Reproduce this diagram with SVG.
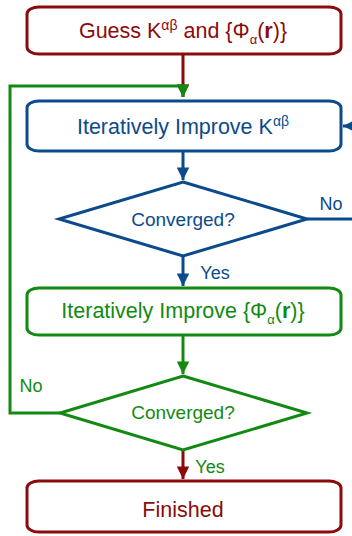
<svg xmlns="http://www.w3.org/2000/svg" width="352" height="536" viewBox="0 0 352 536">
<defs>
<style>
text{font-family:"Liberation Sans",Arial,sans-serif;text-anchor:middle}
.red{stroke:#8b0b0b;fill:none;stroke-width:3}
.blue{stroke:#0b4a8b;fill:none;stroke-width:3}
.green{stroke:#128a12;fill:none;stroke-width:3}
.tr{fill:#8b0b0b}.tb{fill:#0b4a8b}.tg{fill:#128a12}
.big{font-size:21.5px}.mid{font-size:19px}.lab{font-size:18px}
</style>
<marker id="ar" viewBox="0 0 10 10" refX="10" refY="5" markerWidth="4.2" markerHeight="4.2" markerUnits="strokeWidth" orient="auto"><path d="M0,0L10,5L0,10z" fill="#8b0b0b"/></marker>
<marker id="ab" viewBox="0 0 10 10" refX="10" refY="5" markerWidth="4.2" markerHeight="4.2" markerUnits="strokeWidth" orient="auto"><path d="M0,0L10,5L0,10z" fill="#0b4a8b"/></marker>
<marker id="ag" viewBox="0 0 10 10" refX="10" refY="5" markerWidth="4.2" markerHeight="4.2" markerUnits="strokeWidth" orient="auto"><path d="M0,0L10,5L0,10z" fill="#128a12"/></marker>
</defs>
<g id="connectors">
<path class="red" d="M183,55V97" marker-end="url(#ar)"/>
<path class="green" d="M60,413H10V86H183V97" marker-end="url(#ag)"/>
<path class="blue" d="M183,152V180" marker-end="url(#ab)"/>
<path class="blue" d="M307,219H360V126H343" marker-end="url(#ab)"/>
<path class="blue" d="M183,257V286" marker-end="url(#ab)"/>
<path class="green" d="M183,336V374" marker-end="url(#ag)"/>
<path class="red" d="M183,451V479" marker-end="url(#ar)"/>
<text x="331" y="210" class="lab tb">No</text>
<text x="215" y="279" class="lab tb">Yes</text>
<text x="31" y="392" class="lab tg">No</text>
<text x="210" y="473" class="lab tg">Yes</text>
</g>
<g id="guess">
<rect class="red" x="27" y="7" width="314" height="47" rx="12" ry="7"/>
<text x="183" y="38" class="big tr">Guess K<tspan font-size="14" dy="-8">αβ</tspan><tspan dy="8"> and {Φ</tspan><tspan font-size="13" dy="6">α</tspan><tspan dy="-6">(</tspan><tspan font-weight="bold">r</tspan>)}</text>
</g>
<g id="improveK">
<rect class="blue" x="27" y="101" width="314" height="50" rx="12" ry="7"/>
<text x="183" y="134" class="big tb">Iteratively Improve K<tspan font-size="14" dy="-8">αβ</tspan></text>
</g>
<g id="conv1">
<path class="blue" d="M183,182L307,219L183,256L59,219Z"/>
<text x="183" y="226" class="mid tb">Converged?</text>
</g>
<g id="improvePhi">
<rect class="green" x="27" y="288" width="314" height="47" rx="12" ry="7"/>
<text x="183" y="318" class="big tg">Iteratively Improve {Φ<tspan font-size="13" dy="6">α</tspan><tspan dy="-6">(</tspan><tspan font-weight="bold">r</tspan>)}</text>
</g>
<g id="conv2">
<path class="green" d="M183,376L307,413L183,450L60,413Z"/>
<text x="183" y="419" class="mid tg">Converged?</text>
</g>
<g id="finished">
<rect class="red" x="27" y="481" width="314" height="51" rx="12" ry="7"/>
<text x="183" y="517" class="big tr">Finished</text>
</g>
</svg>
